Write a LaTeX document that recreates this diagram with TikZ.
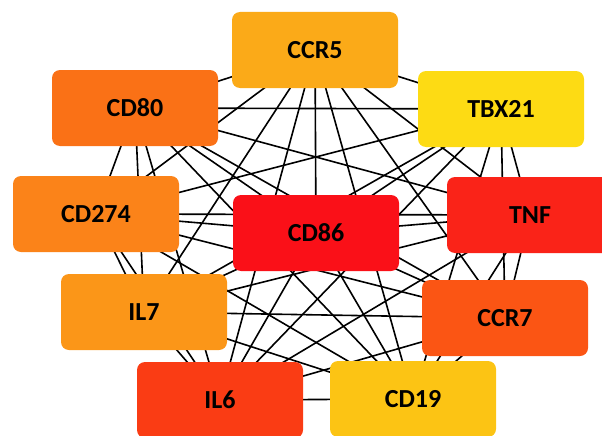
\documentclass[tikz,border=0pt]{standalone}
\usepackage{fontspec}
\setmainfont{Carlito}
\usetikzlibrary{backgrounds}

\definecolor{cCCRfive}{RGB}{251,170,24}
\definecolor{cCDeighty}{RGB}{250,113,22}
\definecolor{cTBX}{RGB}{253,219,20}
\definecolor{cCDtwoseven}{RGB}{251,131,25}
\definecolor{cCDeightysix}{RGB}{250,16,24}
\definecolor{cTNF}{RGB}{250,35,24}
\definecolor{cILseven}{RGB}{251,150,24}
\definecolor{cCCRseven}{RGB}{251,85,20}
\definecolor{cILsix}{RGB}{250,60,20}
\definecolor{cCDnineteen}{RGB}{252,196,20}

\begin{document}
\begin{tikzpicture}[x=1pt, y=-1pt,
  gene/.style={rectangle, rounded corners=8pt, draw=none, minimum width=166pt,
    minimum height=76pt, font=\fontsize{26}{30}\selectfont\bfseries},
  link/.style={black, line width=1.6pt}]

\useasboundingbox (0,0) rectangle (602,436);

% Geny (10), kolor wg stopnia
\foreach \i/\x/\y/\col/\name in {
  0/315/50/cCCRfive/CCR5, 1/135/108/cCDeighty/CD80,
  2/501/109/cTBX/TBX21, 3/96/214/cCDtwoseven/CD274,
  4/316/233/cCDeightysix/CD86, 5/530/215/cTNF/TNF,
  6/144/312/cILseven/IL7, 7/505/318/cCCRseven/CCR7,
  8/220/400/cILsix/IL6, 9/413/399/cCDnineteen/CD19
} {
  \node[gene, fill=\col] (n\i) at (\x,\y) {\name};
}

% Krawędzie: każdy z każdym
\begin{pgfonlayer}{background}
\foreach \i in {0,...,8} {
  \pgfmathtruncatemacro{\k}{\i + 1}
  \foreach \j in {\k,...,9} {
    \draw[link] (n\i.center) -- (n\j.center);
  }
}
\end{pgfonlayer}

\end{tikzpicture}
\end{document}
